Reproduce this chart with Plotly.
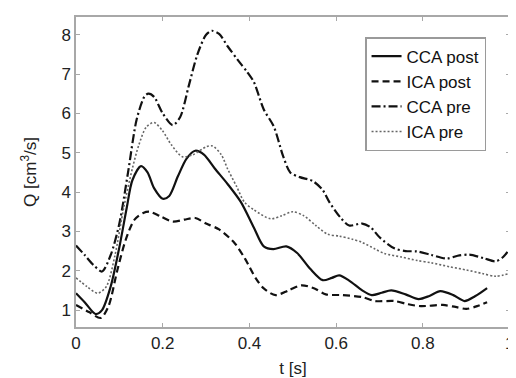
import plotly.graph_objects as go

# CCA post (solid)
t_cca_post = [0.0, 0.02, 0.045, 0.06, 0.08, 0.1, 0.117, 0.13, 0.15, 0.165, 0.18, 0.2, 0.215, 0.235, 0.255,
              0.275, 0.295, 0.32, 0.35, 0.38, 0.41, 0.433, 0.455, 0.485, 0.51, 0.54, 0.569, 0.59, 0.607,
              0.63, 0.66, 0.682, 0.705, 0.727, 0.76, 0.79, 0.815, 0.84, 0.87, 0.896, 0.92, 0.948]
q_cca_post = [1.43, 1.2, 0.9, 1.0, 1.6, 2.6, 3.6, 4.3, 4.66, 4.5, 4.1, 3.83, 3.9, 4.4, 4.85,
              5.05, 4.95, 4.6, 4.2, 3.75, 3.1, 2.62, 2.55, 2.62, 2.45, 2.05, 1.76, 1.82, 1.88,
              1.75, 1.5, 1.38, 1.44, 1.5, 1.4, 1.28, 1.36, 1.48, 1.38, 1.23, 1.35, 1.56]

# ICA post (dashed)
t_ica_post = [0.0, 0.03, 0.057, 0.075, 0.095, 0.115, 0.135, 0.155, 0.17, 0.195, 0.223, 0.25, 0.275, 0.3,
              0.33, 0.366, 0.39, 0.415, 0.433, 0.46, 0.49, 0.52, 0.55, 0.576, 0.614, 0.66, 0.69, 0.734,
              0.765, 0.795, 0.846, 0.875, 0.9, 0.925, 0.948]
q_ica_post = [1.13, 0.95, 0.8, 1.1, 2.0, 2.8, 3.3, 3.47, 3.5, 3.38, 3.25, 3.3, 3.34, 3.2,
              3.05, 2.7, 2.3, 1.8, 1.55, 1.38, 1.5, 1.63, 1.55, 1.4, 1.38, 1.33, 1.23, 1.23,
              1.15, 1.1, 1.13, 1.08, 1.03, 1.1, 1.2]

# CCA pre (dash-dot)
t_cca_pre = [0.0, 0.02, 0.04, 0.06, 0.08, 0.1, 0.12, 0.14, 0.158, 0.167, 0.18, 0.2, 0.223, 0.24, 0.26,
             0.28, 0.3, 0.313, 0.33, 0.35, 0.373, 0.395, 0.41, 0.433, 0.456, 0.478, 0.494, 0.516, 0.546,
             0.569, 0.584, 0.61, 0.63, 0.66, 0.68, 0.7, 0.734, 0.76, 0.787, 0.82, 0.855, 0.88, 0.907,
             0.94, 0.968, 0.985, 1.0]
q_cca_pre = [2.64, 2.4, 2.15, 1.98, 2.4, 3.2, 4.5, 5.85, 6.43, 6.5, 6.42, 6.0, 5.7, 5.9, 6.7,
             7.5, 8.0, 8.1, 8.02, 7.7, 7.36, 7.05, 6.8, 6.1, 5.67, 4.9, 4.5, 4.38, 4.28,
             4.05, 3.75, 3.35, 3.15, 3.2, 3.1, 2.85, 2.57, 2.5, 2.49, 2.4, 2.31, 2.38, 2.41,
             2.32, 2.24, 2.35, 2.56]

# ICA pre (dotted)
t_ica_pre = [0.0, 0.025, 0.05, 0.07, 0.09, 0.11, 0.13, 0.145, 0.162, 0.18, 0.2, 0.22, 0.245, 0.27, 0.3,
             0.315, 0.335, 0.35, 0.37, 0.388, 0.41, 0.449, 0.475, 0.5, 0.525, 0.553, 0.58, 0.607, 0.637,
             0.66, 0.69, 0.711, 0.75, 0.787, 0.82, 0.862, 0.9, 0.937, 0.968, 1.0]
q_ica_pre = [1.82, 1.6, 1.43, 1.6, 2.4, 3.6, 4.6, 5.2, 5.65, 5.77, 5.55, 5.2, 4.9, 4.95, 5.15,
             5.17, 4.95, 4.58, 4.15, 3.75, 3.55, 3.32, 3.4, 3.5, 3.4, 3.15, 2.93, 2.88, 2.8,
             2.72, 2.55, 2.44, 2.35, 2.26, 2.2, 2.1, 2.02, 1.93, 1.86, 1.93]

names = ["CCA post", "ICA post", "CCA pre", "ICA pre"]
x_ticks = [0, 0.2, 0.4, 0.6, 0.8, 1]
x_tick_labels = ["0", "0.2", "0.4", "0.6", "0.8", "1"]
y_ticks = [1, 2, 3, 4, 5, 6, 7, 8]

fig = go.Figure()
fig.add_trace(go.Scatter(x=t_cca_post, y=q_cca_post, mode="lines", name=names[0],
                         line=dict(color="#111111", width=2.2, shape="spline", smoothing=0.8)))
fig.add_trace(go.Scatter(x=t_ica_post, y=q_ica_post, mode="lines", name=names[1],
                         line=dict(color="#111111", width=2.2, dash="7px,4px", shape="spline", smoothing=0.8)))
fig.add_trace(go.Scatter(x=t_cca_pre, y=q_cca_pre, mode="lines", name=names[2],
                         line=dict(color="#111111", width=2.2, dash="9px,3px,2px,3px", shape="spline", smoothing=0.8)))
fig.add_trace(go.Scatter(x=t_ica_pre, y=q_ica_pre, mode="lines", name=names[3],
                         line=dict(color="#666666", width=1.6, dash="2px,2px", shape="spline", smoothing=0.8)))

axis_common = dict(showgrid=False, zeroline=False, showline=True, linecolor="#a8a8a8", linewidth=1.5,
                   mirror="all", ticks="inside", ticklen=4, tickcolor="#a8a8a8",
                   ticklabeloverflow="allow",
                   tickfont=dict(family="Liberation Sans, Arial", size=17, color="#222222"))

fig.update_layout(
    width=516, height=378,
    margin=dict(l=68, r=14, t=7, b=59),
    paper_bgcolor="white", plot_bgcolor="white",
    font=dict(family="Liberation Sans, Arial", size=17, color="#222222"),
    xaxis=dict(range=[0, 1.0008], tickvals=x_ticks, ticktext=x_tick_labels,
               title=dict(text="t [s]", standoff=10, font=dict(size=17)), **axis_common),
    yaxis=dict(range=[0.57, 8.45], tickvals=y_ticks,
               title=dict(text="Q [cm<sup>3</sup>/s]", standoff=20, font=dict(size=17)), **axis_common),
    legend=dict(x=0.666, y=0.935, xanchor="left", yanchor="top",
                bgcolor="white", bordercolor="#9a9a9a", borderwidth=1.5,
                font=dict(size=17, color="#111111"), tracegroupgap=0, itemwidth=30),
    showlegend=True,
)

fig.write_html("out.html")
